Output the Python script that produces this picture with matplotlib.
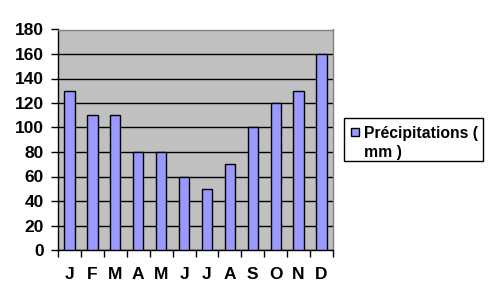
import matplotlib
matplotlib.use("Agg")
import matplotlib.pyplot as plt
from matplotlib.patches import Rectangle

months = ["J", "F", "M", "A", "M", "J", "J", "A", "S", "O", "N", "D"]
precip = [130, 110, 110, 80, 80, 60, 50, 70, 100, 120, 130, 160]
yticks = [0, 20, 40, 60, 80, 100, 120, 140, 160, 180]
series_lines = ["Précipitations (", "mm )"]

plt.rcParams['font.family'] = ['Liberation Sans', 'DejaVu Sans']
W, H = 493, 304
fig = plt.figure(figsize=(W/100, H/100), dpi=100)
ax = fig.add_axes([58/W, 1-250/H, (333-58)/W, (250-29.5)/H])
ax.set_facecolor('#C0C0C0')
x = list(range(len(months)))
ax.bar(x, precip, width=0.45, color='#9999FF', edgecolor='black', linewidth=1, zorder=3)
ax.set_xlim(-0.5, 11.5)
ax.set_ylim(0, 180)
ax.set_yticks(yticks)
ax.set_yticklabels([str(v) for v in yticks], fontsize=12.5, fontweight='bold')
ax.yaxis.grid(True, color='black', linewidth=1, zorder=1)
ax.set_axisbelow(True)
ax.set_xticks([i + 0.5 for i in range(-1, 12)], minor=False)
ax.set_xticklabels([])
ax.set_xticks(x, minor=True)
ax.set_xticklabels(months, minor=True, fontsize=12.5, fontweight='bold')
ax.tick_params(axis='x', which='major', length=5, width=1, direction='out', color='black')
ax.tick_params(axis='x', which='minor', length=0, pad=12)
ax.tick_params(axis='y', length=5, width=1, direction='out', pad=5)
for s in ['top', 'right']:
    ax.spines[s].set_color('#808080')
for s in ['left', 'bottom']:
    ax.spines[s].set_color('black')
for s in ax.spines.values():
    s.set_linewidth(1)

# legend (drawn manually to match Excel layout)
def fx(px):
    return px / W
def fy(py):
    return 1 - py / H
fig.patches.append(Rectangle((fx(344), fy(161)), fx(483) - fx(344), fy(118) - fy(161),
                             transform=fig.transFigure, facecolor='white',
                             edgecolor='black', linewidth=1))
fig.patches.append(Rectangle((fx(351), fy(136)), 8/W, 8/H,
                             transform=fig.transFigure, facecolor='#9999FF',
                             edgecolor='black', linewidth=1))
fig.text(fx(363.5), fy(138), series_lines[0], fontsize=11.3, fontweight='bold', va='baseline', ha='left')
fig.text(fx(363.5), fy(157), series_lines[1], fontsize=11.3, fontweight='bold', va='baseline', ha='left')
fig.savefig("out.png", dpi=100)
